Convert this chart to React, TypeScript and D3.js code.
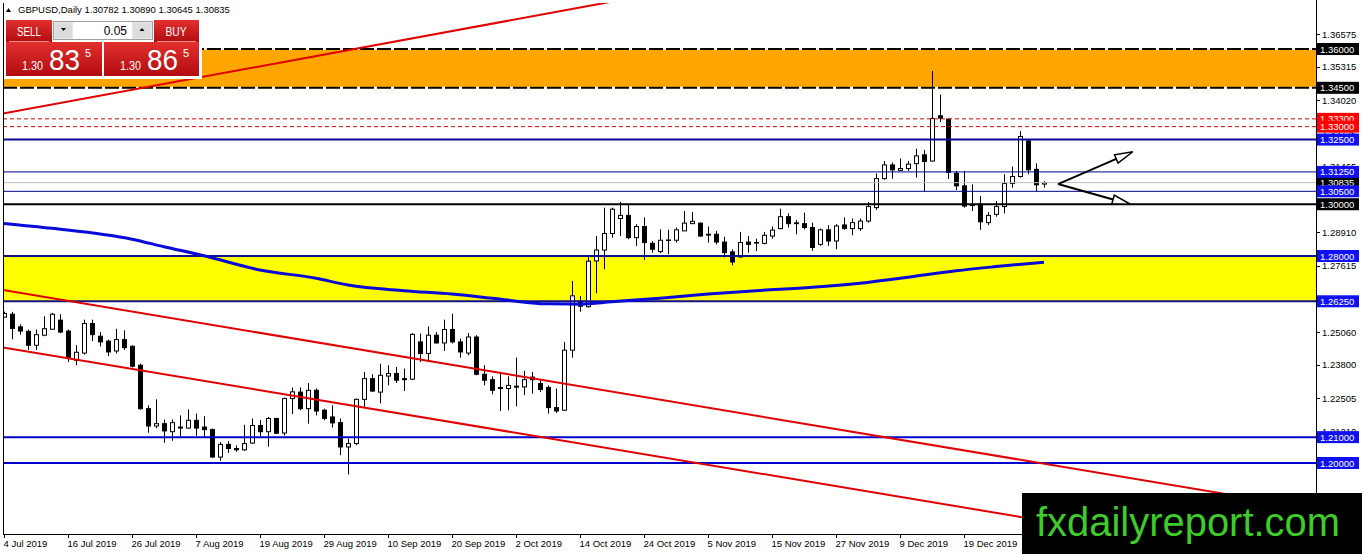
import * as d3 from "d3";

// GBPUSD daily, 4 Jul 2019 .. early Jan 2020 (bar 0 = 4 Jul 2019)
const open = [
  1.2564, 1.2575, 1.2526, 1.2509, 1.2455, 1.2494, 1.2517, 1.2552, 1.251, 1.2397,
  1.2425, 1.2539, 1.249, 1.2471, 1.2433, 1.2477, 1.2451, 1.2378, 1.221, 1.2143,
  1.2152, 1.2121, 1.2139, 1.2135, 1.2165, 1.2139, 1.2129, 1.2023, 1.2072, 1.2056,
  1.2051, 1.2077, 1.2145, 1.2121, 1.2172, 1.2116, 1.2249, 1.2274, 1.221, 1.2281,
  1.2204, 1.2178, 1.2156, 1.2062, 1.2075, 1.2246, 1.2326, 1.2274, 1.2336, 1.2346,
  1.2326, 1.2324, 1.2468, 1.2423, 1.2494, 1.2464, 1.2516, 1.2468, 1.2425, 1.2487,
  1.2343, 1.2322, 1.2292, 1.2288, 1.2293, 1.2294, 1.2332, 1.2307, 1.2292, 1.2214,
  1.2204, 1.2436, 1.2625, 1.2604, 1.2781, 1.2823, 1.2887, 1.2945, 1.2957, 1.2871,
  1.2914, 1.2849, 1.2817, 1.286, 1.2861, 1.2897, 1.2925, 1.2927, 1.2884, 1.2884,
  1.2854, 1.2816, 1.2796, 1.2854, 1.285, 1.2849, 1.2877, 1.2906, 1.2952, 1.2928,
  1.2925, 1.291, 1.2845, 1.2901, 1.2858, 1.292, 1.2906, 1.2906, 1.2935, 1.2987,
  1.3099, 1.3152, 1.3131, 1.3138, 1.3157, 1.3191, 1.3167, 1.3342, 1.3329, 1.312,
  1.3071, 1.2995, 1.3, 1.2929, 1.2961, 1.2991, 1.308, 1.3107, 1.3245, 1.3135,
  1.30782,
];
const high = [
  1.2585, 1.2584, 1.2536, 1.2516, 1.2516, 1.2567, 1.258, 1.2575, 1.2516, 1.2455,
  1.2554, 1.2554, 1.2506, 1.2477, 1.2519, 1.2513, 1.2455, 1.2384, 1.2223, 1.2246,
  1.2168, 1.2168, 1.2184, 1.2207, 1.2191, 1.2181, 1.2133, 1.2081, 1.2085, 1.2068,
  1.2148, 1.2172, 1.2166, 1.2178, 1.2175, 1.2253, 1.2292, 1.2292, 1.2309, 1.2288,
  1.221, 1.2223, 1.2172, 1.2094, 1.2249, 1.2352, 1.2343, 1.2384, 1.2378, 1.2371,
  1.2365, 1.2502, 1.25, 1.2528, 1.2506, 1.2554, 1.2577, 1.2481, 1.2502, 1.2494,
  1.2378, 1.2335, 1.2346, 1.2335, 1.2407, 1.2356, 1.2352, 1.232, 1.23, 1.2288,
  1.2468, 1.2704, 1.2646, 1.28, 1.2877, 1.2987, 1.2987, 1.3009, 1.3, 1.2923,
  1.2949, 1.2858, 1.2903, 1.2901, 1.291, 1.2974, 1.297, 1.2929, 1.2914, 1.2897,
  1.2875, 1.2826, 1.2893, 1.2877, 1.2867, 1.2893, 1.2914, 1.2983, 1.2965, 1.2939,
  1.2968, 1.2929, 1.2906, 1.2919, 1.2923, 1.2949, 1.2945, 1.2945, 1.3009, 1.3119,
  1.3167, 1.3161, 1.3177, 1.3167, 1.3215, 1.321, 1.3515, 1.3424, 1.3331, 1.3129,
  1.3129, 1.3077, 1.3032, 1.297, 1.3013, 1.3116, 1.3146, 1.3283, 1.3245, 1.3158,
  1.3089,
];
const low = [
  1.2562, 1.2478, 1.2496, 1.2437, 1.2437, 1.249, 1.2515, 1.2502, 1.239, 1.2378,
  1.2419, 1.2471, 1.2451, 1.2413, 1.2423, 1.2437, 1.2369, 1.2206, 1.2117, 1.2134,
  1.2078, 1.2086, 1.2103, 1.2133, 1.2105, 1.2098, 1.2019, 1.2009, 1.2039, 1.2043,
  1.2047, 1.2075, 1.2102, 1.2063, 1.2113, 1.2106, 1.2189, 1.2204, 1.2152, 1.2184,
  1.2165, 1.2137, 1.203, 1.1956, 1.2069, 1.2217, 1.2274, 1.223, 1.23, 1.2309,
  1.2278, 1.232, 1.239, 1.239, 1.2462, 1.2433, 1.2462, 1.2407, 1.2416, 1.2339,
  1.23, 1.2266, 1.2201, 1.2204, 1.2219, 1.2262, 1.2268, 1.2274, 1.2191, 1.2193,
  1.2201, 1.2407, 1.2585, 1.2601, 1.2656, 1.2749, 1.2871, 1.2877, 1.2865, 1.2839,
  1.2785, 1.2813, 1.2811, 1.2807, 1.2852, 1.2897, 1.2924, 1.2875, 1.2852, 1.2845,
  1.2794, 1.2764, 1.2794, 1.2813, 1.2819, 1.2845, 1.2867, 1.2903, 1.291, 1.2884,
  1.2903, 1.282, 1.2839, 1.2839, 1.2826, 1.2901, 1.288, 1.2897, 1.2929, 1.2978,
  1.3095, 1.3099, 1.3129, 1.3129, 1.3103, 1.3051, 1.3165, 1.3318, 1.3098, 1.3055,
  1.2987, 1.2974, 1.2901, 1.2919, 1.2952, 1.2965, 1.3064, 1.3103, 1.3116, 1.3049,
  1.30645,
];
const close = [
  1.2578, 1.252, 1.251, 1.2455, 1.2496, 1.2519, 1.2575, 1.2506, 1.2404, 1.2428,
  1.2539, 1.2496, 1.2468, 1.2429, 1.2477, 1.2446, 1.2374, 1.221, 1.2143, 1.2152,
  1.2124, 1.2156, 1.2135, 1.2165, 1.2135, 1.2129, 1.2023, 1.2072, 1.2056, 1.2051,
  1.2075, 1.2145, 1.2121, 1.2172, 1.2115, 1.2249, 1.2275, 1.221, 1.2281, 1.2201,
  1.2172, 1.2155, 1.2062, 1.2075, 1.2246, 1.2326, 1.2278, 1.2339, 1.2346, 1.232,
  1.2322, 1.2497, 1.2423, 1.2494, 1.2464, 1.2516, 1.2468, 1.2429, 1.2487, 1.2343,
  1.232, 1.2281, 1.2288, 1.23, 1.2297, 1.2322, 1.2322, 1.2284, 1.2214, 1.2201,
  1.2436, 1.2646, 1.2606, 1.278, 1.2823, 1.2887, 1.2981, 1.2957, 1.2871, 1.2914,
  1.2852, 1.2826, 1.2861, 1.2862, 1.2901, 1.2927, 1.2934, 1.2877, 1.2881, 1.2854,
  1.2813, 1.2777, 1.2852, 1.2845, 1.2852, 1.288, 1.29, 1.2952, 1.2925, 1.2925,
  1.291, 1.2833, 1.2901, 1.2858, 1.2916, 1.2906, 1.2929, 1.2935, 1.2991, 1.3099,
  1.3152, 1.3133, 1.3138, 1.3155, 1.3187, 1.3165, 1.3331, 1.3333, 1.3123, 1.3071,
  1.2993, 1.2998, 1.2932, 1.2957, 1.2991, 1.308, 1.3107, 1.3262, 1.3133, 1.3075,
  1.30835,
];

// one date label every 8 bars
const dateLabels = [
  "4 Jul 2019", "16 Jul 2019", "26 Jul 2019", "7 Aug 2019", "19 Aug 2019", "29 Aug 2019",
  "10 Sep 2019", "20 Sep 2019", "2 Oct 2019", "14 Oct 2019", "24 Oct 2019", "5 Nov 2019",
  "15 Nov 2019", "27 Nov 2019", "9 Dec 2019", "19 Dec 2019",
];
const barsPerLabel = 8;

const priceTicks = [
  1.36575, 1.35315, 1.3402, 1.32725, 1.31465, 1.3017, 1.2891, 1.27615,
  1.26355, 1.2506, 1.238, 1.22505, 1.2121, 1.1995, 1.18655,
];

// moving average: [bar, price]
const maBars = [0, 6, 16, 20, 25, 32, 39, 43, 50, 56, 61, 68, 72, 76, 82, 88, 94, 101, 107, 113, 119, 124, 130];
const maValues = [
  1.2926, 1.2907, 1.2865, 1.2836, 1.2801, 1.2746, 1.2714, 1.2688, 1.2666, 1.2653, 1.2637, 1.2615,
  1.2614, 1.2623, 1.2637, 1.2653, 1.2666, 1.2679, 1.2695, 1.2718, 1.2743, 1.2759, 1.2776,
];

const zoneLow = [1.345, 1.2625];
const zoneHigh = [1.36, 1.28];
const zoneFill = ["#FFA500", "#FFFF00"];

const levels = [1.36, 1.345, 1.333, 1.33, 1.325, 1.3125, 1.305, 1.3, 1.28, 1.2625, 1.21, 1.2];
const levelKind = ["dash", "dash", "red", "red", "blue2", "blue1", "blue1", "black", "navy", "navy", "blue", "blue"];
const lastPrice = 1.30835;

const trendTop: [number, number][] = [[0, 1.3351], [70, 1.3749]];
const channelUpper: [number, number][] = [[0, 1.2668], [100, 1.2152]];
const channelLower: [number, number][] = [[0, 1.2446], [100, 1.1931]];

const arrowFrom: [number, number] = [131.75, 1.3078];
const arrowTo: [number, number][] = [[141.1, 1.3203], [140.8, 1.3]];

const W = 1362;
const H = 554;
const plot = { left: 3, top: 3, right: 1316, bottom: 534 };
const FONT = "'Liberation Sans', Arial, sans-serif";

const x = d3.scaleLinear().domain([0, 130]).range([4, 1044]);
const y = d3.scaleLinear().domain([1.2, 1.36]).range([463, 49]);

const lineStyle: Record<string, { stroke: string; width: number; dash?: string }> = {
  dash: { stroke: "#000", width: 2, dash: "14,3" },
  red: { stroke: "#D00000", width: 1, dash: "4,3" },
  blue2: { stroke: "#0A0A9A", width: 2 },
  blue1: { stroke: "#00008B", width: 1 },
  black: { stroke: "#000", width: 2 },
  navy: { stroke: "#10108C", width: 2 },
  blue: { stroke: "#0000CD", width: 2 },
};
const labelBg: Record<string, string> = {
  dash: "#000", red: "#FF0000", blue2: "#1010F0", blue1: "#1010F0",
  black: "#000", navy: "#1010F0", blue: "#1010F0",
};

// a tick label sitting right under a level label is hidden by it, as in the terminal
const boxPrices = [...levels, lastPrice];
const tickHidden = (p: number) => boxPrices.some((b) => Math.abs(y(b) - y(p)) < 5);

function extendLine(pts: [number, number][]) {
  const [[i0, p0], [i1, p1]] = pts;
  const slope = (p1 - p0) / (i1 - i0);
  const a = x.invert(plot.left);
  const b = x.invert(plot.right);
  return { x1: plot.left, y1: y(p0 + slope * (a - i0)), x2: plot.right, y2: y(p0 + slope * (b - i0)) };
}

function Arrow({ to }: { to: [number, number] }) {
  const sx = x(arrowFrom[0]), sy = y(arrowFrom[1]);
  const tx = x(to[0]), ty = y(to[1]);
  const len = Math.hypot(tx - sx, ty - sy);
  const ux = (tx - sx) / len, uy = (ty - sy) / len;
  const L = 18, w = 4.5;
  const bx = tx - ux * L, by = ty - uy * L;
  const pts = [[tx, ty], [bx - uy * w, by + ux * w], [bx + uy * w, by - ux * w]];
  return (
    <g>
      <line x1={sx} y1={sy} x2={bx} y2={by} stroke="#000" strokeWidth={2} />
      <polygon points={pts.map((p) => p.join(",")).join(" ")} fill="#fff" stroke="#000" strokeWidth={1.5} />
    </g>
  );
}

function PriceLabel({ value, bg }: { value: number; bg: string }) {
  const cy = y(value);
  return (
    <g>
      <rect x={1317} y={cy - 6} width={42} height={12} fill={bg} />
      <text x={1320} y={cy + 3.5} fill="#fff" fontSize={9.5} fontFamily={FONT}>
        {value.toFixed(5)}
      </text>
    </g>
  );
}

function TradePanel() {
  const big = (x0: number, w: number, digits: string) => (
    <g>
      <rect x={x0} y={42} width={w} height={34} fill="url(#redGrad)" />
      <text x={x0 + 16} y={70} fill="#fff" fontSize={12} fontFamily={FONT} textLength={21} lengthAdjust="spacingAndGlyphs">1.30</text>
      <text x={x0 + 43} y={70} fill="#fff" fontSize={29} fontFamily={FONT} textLength={31} lengthAdjust="spacingAndGlyphs">{digits}</text>
      <text x={x0 + 79} y={57} fill="#fff" fontSize={11} fontFamily={FONT}>5</text>
    </g>
  );
  return (
    <g>
      <rect x={4} y={18} width={198} height={61} fill="#fff" />
      <rect x={6} y={20} width={46} height={22} fill="url(#redGrad)" />
      <line x1={9} x2={49} y1={41.5} y2={41.5} stroke="#F29090" />
      <text x={29} y={36} textAnchor="middle" fill="#fff" fontSize={13} fontFamily={FONT} textLength={24} lengthAdjust="spacingAndGlyphs">SELL</text>
      <rect x={53.5} y={21.5} width={99} height={18} fill="#F0F0F0" stroke="#A0A0A0" />
      <rect x={54.5} y={22.5} width={18} height={16} fill="#DCDCDC" />
      <rect x={132.5} y={22.5} width={19} height={16} fill="#DCDCDC" />
      <rect x={73} y={22} width={59} height={17} fill="#fff" />
      <path d="M61,28 L66,28 L63.5,31 Z" fill="#000" />
      <path d="M139.5,31 L144.5,31 L142,28 Z" fill="#000" />
      <text x={127} y={35} textAnchor="end" fill="#000" fontSize={12} fontFamily={FONT}>0.05</text>
      <rect x={154} y={20} width={45} height={22} fill="url(#redGrad)" />
      <line x1={157} x2={196} y1={41.5} y2={41.5} stroke="#F29090" />
      <text x={176} y={36} textAnchor="middle" fill="#fff" fontSize={13} fontFamily={FONT} textLength={21} lengthAdjust="spacingAndGlyphs">BUY</text>
      {big(6, 96, "83")}
      {big(104, 95, "86")}
    </g>
  );
}

export default function App() {
  const maLine = d3
    .line<number>()
    .x((_, k) => x(maBars[k]))
    .y((d) => y(d))
    .curve(d3.curveMonotoneX)(maValues) ?? "";

  const trends = [trendTop, channelUpper, channelLower].map(extendLine);

  return (
    <svg
      width={W}
      height={H}
      style={{ position: "fixed", left: 0, top: 0, display: "block", background: "#fff" }}
    >
      <defs>
        <clipPath id="plotClip">
          <rect x={plot.left} y={plot.top} width={plot.right - plot.left} height={plot.bottom - plot.top} />
        </clipPath>
        <linearGradient id="redGrad" x1="0" y1="0" x2="0" y2="1">
          <stop offset="0" stopColor="#E2302E" />
          <stop offset="1" stopColor="#B20C10" />
        </linearGradient>
      </defs>
      <rect width={W} height={H} fill="#fff" />

      <g clipPath="url(#plotClip)">
        {zoneLow.map((lo, k) => (
          <rect
            key={k}
            x={plot.left}
            width={plot.right - plot.left}
            y={y(zoneHigh[k])}
            height={y(lo) - y(zoneHigh[k])}
            fill={zoneFill[k]}
          />
        ))}

        {/* candles */}
        {open.map((o, i) => {
          const c = close[i];
          const cx = Math.round(x(i)) + 0.5;
          const top = y(Math.max(o, c));
          const bot = y(Math.min(o, c));
          const up = c >= o;
          return (
            <g key={i}>
              <line x1={cx} x2={cx} y1={y(high[i])} y2={y(low[i])} stroke="#000" />
              <rect
                x={cx - 2}
                y={top}
                width={4}
                height={Math.max(bot - top, 0.3)}
                fill={up ? "#fff" : "#000"}
                stroke="#000"
              />
            </g>
          );
        })}

        {/* horizontal levels */}
        <line x1={plot.left} x2={plot.right} y1={y(lastPrice)} y2={y(lastPrice)} stroke="#BEBEBE" />
        {levels.map((p, k) => {
          const s = lineStyle[levelKind[k]];
          return (
            <g key={k}>
              {levelKind[k] === "dash" && (
                <line x1={plot.left} x2={plot.right} y1={y(p)} y2={y(p)} stroke="#FFF0C8" strokeWidth={2} />
              )}
              <line
                x1={plot.left}
                x2={plot.right}
                y1={y(p)}
                y2={y(p)}
                stroke={s.stroke}
                strokeWidth={s.width}
                strokeDasharray={s.dash}
              />
            </g>
          );
        })}

        {/* trend lines */}
        {trends.map((t, k) => (
          <line key={k} {...t} stroke="#E00000" strokeWidth={2} />
        ))}

        {/* moving average */}
        <path d={maLine} fill="none" stroke="#0A0AD8" strokeWidth={3} />

        {arrowTo.map((t, k) => (
          <Arrow key={k} to={t} />
        ))}
      </g>

      {/* frame */}
      <line x1={plot.left + 0.5} x2={plot.left + 0.5} y1={plot.top} y2={plot.bottom} stroke="#000" />
      <line x1={plot.right + 0.5} x2={plot.right + 0.5} y1={0} y2={plot.bottom + 1} stroke="#000" />
      <line x1={plot.left} x2={plot.right + 1} y1={plot.bottom + 0.5} y2={plot.bottom + 0.5} stroke="#000" />

      {/* price axis */}
      {priceTicks.map((p) => (
        <g key={p}>
          <line x1={plot.right} x2={plot.right + 4} y1={Math.round(y(p)) + 0.5} y2={Math.round(y(p)) + 0.5} stroke="#000" />
          {!tickHidden(p) && (
            <text x={1322} y={y(p) + 3.5} fill="#000" fontSize={9.5} fontFamily={FONT}>
              {p.toFixed(5)}
            </text>
          )}
        </g>
      ))}
      <PriceLabel value={lastPrice} bg="#000" />
      {levels.map((p, k) => (
        <PriceLabel key={k} value={p} bg={labelBg[levelKind[k]]} />
      ))}

      {/* time axis */}
      {dateLabels.map((d, k) => {
        const tx = Math.round(x(k * barsPerLabel)) + 0.5;
        return (
          <g key={d}>
            <line x1={tx} x2={tx} y1={plot.bottom} y2={plot.bottom + 4} stroke="#000" />
            <text x={tx - 1} y={547} fill="#000" fontSize={9.5} fontFamily={FONT}>
              {d}
            </text>
          </g>
        );
      })}

      {/* header */}
      <path d="M6,12 L11,12 L8.5,8 Z" fill="#000" />
      <text x={18} y={13} fill="#000" fontSize={9.5} fontFamily={FONT}>
        {`GBPUSD,Daily  ${open[130].toFixed(5)} ${high[130].toFixed(5)} ${low[130].toFixed(5)} ${close[130].toFixed(5)}`}
      </text>

      <TradePanel />

      {/* watermark */}
      <rect x={1022} y={493} width={340} height={61} fill="#000" />
      <text x={1036} y={536} fill="#3DCC2A" fontSize={40} fontFamily={FONT} textLength={304} lengthAdjust="spacingAndGlyphs">
        fxdailyreport.com
      </text>
    </svg>
  );
}
